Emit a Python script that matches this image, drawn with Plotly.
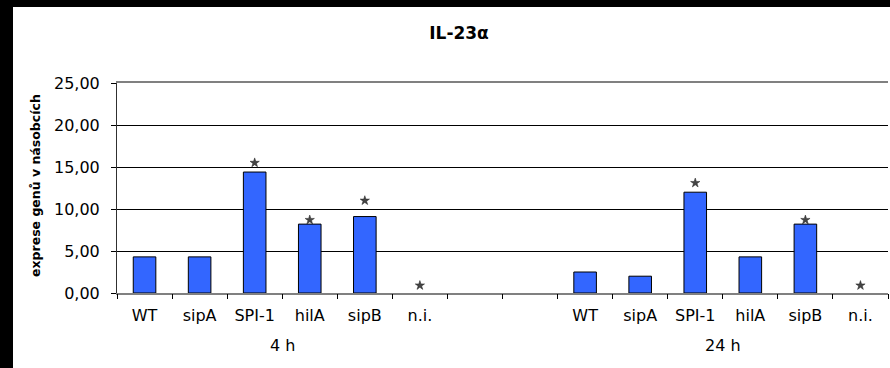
import plotly.graph_objects as go

# Expression of IL-23 alpha after infection, two time points
categories = ["WT", "sipA", "SPI-1", "hilA", "sipB", "n.i.", "", "",
              "WT", "sipA", "SPI-1", "hilA", "sipB", "n.i."]
values = [4.3, 4.3, 14.4, 8.2, 9.1, 0.0, None, None,
          2.5, 2.0, 12.0, 4.3, 8.2, 0.0]
groups = ["4 h", "24 h"]
group_slots = [[1, 2, 3, 4, 5, 6], [9, 10, 11, 12, 13, 14]]

# significance marks (slot, height of the mark)
sig_slots = [3, 4, 5, 6, 11, 13, 14]
sig_heights = [15.5, 8.7, 11.0, 0.9, 13.1, 8.7, 0.9]

y_ticks = [0, 5, 10, 15, 20, 25]

slots = list(range(1, len(categories) + 1))
boundaries = [s - 0.5 for s in slots] + [slots[-1] + 0.5]
x_range = [boundaries[0], boundaries[-1]]

FONT = "DejaVu Sans, Verdana, sans-serif"

fig = go.Figure()
fig.add_trace(go.Bar(
    x=slots, y=values, width=0.41,
    marker=dict(color="#3366FF",
                line=dict(color="black", width=[1 if v else 0 for v in values])),
    hoverinfo="skip", showlegend=False,
))
fig.add_trace(go.Scatter(
    x=sig_slots, y=sig_heights, mode="markers", xaxis="x2",
    marker=dict(symbol="star", size=7, color="#444444",
                line=dict(color="#222222", width=0.5)),
    hoverinfo="skip", showlegend=False,
))

W, H = 890, 368
L, R, T, B = 117, 2, 83, 75
pw, ph = W - L - R, H - T - B

def px_x(px):
    return (px - L) / pw

def px_y(py):
    return (H - B - py) / ph

annotations = []
for name, members in zip(groups, group_slots):
    annotations.append(dict(
        x=sum(members) / len(members), xref="x", y=px_y(345), yref="paper",
        text=name, showarrow=False, xanchor="center", yanchor="middle",
        font=dict(family=FONT, size=16, color="black"),
    ))
annotations.append(dict(
    x=px_x(35), xref="paper", y=px_y(186), yref="paper",
    text="<b>exprese genů v násobcích</b>", textangle=-90, showarrow=False,
    xanchor="center", yanchor="middle",
    font=dict(family=FONT, size=12.5, color="black"),
))

fig.update_layout(
    width=W, height=H,
    margin=dict(l=L, r=R, t=T, b=B),
    paper_bgcolor="black", plot_bgcolor="white",
    separators=", ",
    title=dict(text="<b>IL-23α</b>", x=459 / W, xref="container", xanchor="center",
               y=1 - 33 / H, yref="container", yanchor="middle",
               font=dict(family=FONT, size=17, color="black")),
    shapes=[dict(type="rect", xref="paper", yref="paper",
                 x0=px_x(13), x1=px_x(W + 2), y0=px_y(H + 2), y1=px_y(7),
                 fillcolor="white", line=dict(width=0), layer="below")],
    xaxis=dict(range=x_range, tickmode="array", tickvals=slots, ticktext=categories,
               ticks="", showgrid=False, zeroline=False,
               showline=True, linecolor="#808080", linewidth=2, mirror=True,
               tickfont=dict(family=FONT, size=16, color="black"),
               ticklabelstandoff=7),
    xaxis2=dict(range=x_range, overlaying="x", anchor="y", side="bottom",
                tickmode="array", tickvals=boundaries, ticks="outside", ticklen=5,
                tickcolor="black", tickwidth=1, showticklabels=False,
                showgrid=False, zeroline=False, showline=False),
    yaxis=dict(range=[0, 25], tickmode="array", tickvals=y_ticks, tickformat=".2f",
               showgrid=True, gridcolor="black", gridwidth=1, zeroline=False,
               showline=True, linecolor="#303030", linewidth=1,
               ticks="outside", ticklen=5, tickcolor="black",
               ticklabelstandoff=8,
               tickfont=dict(family=FONT, size=16, color="black")),
    yaxis2=dict(range=[0, 25], overlaying="y", side="right", anchor="x",
                showline=True, linecolor="#c0c0c0", linewidth=1,
                showticklabels=False, showgrid=False, zeroline=False, ticks=""),
    annotations=annotations,
)

fig.write_html("out.html")
